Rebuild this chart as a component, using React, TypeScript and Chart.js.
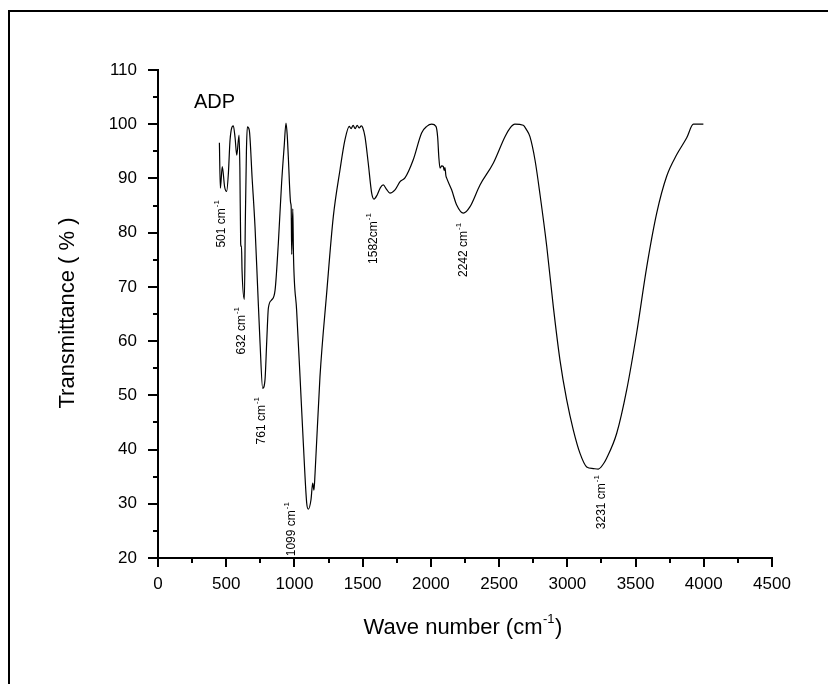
import React, { useEffect, useRef } from 'react';
import { Chart, registerables } from 'chart.js';

Chart.register(...registerables);

// ---- Data ----
const waveNumbers = [
  450, 457, 471, 488, 503, 516, 528, 552, 565, 577, 594, 600, 606, 609, 612, 616, 633,
  640, 648, 655, 669, 690, 711, 730, 748, 767, 784, 797, 809, 833, 858, 882, 906, 925,
  938, 947, 955, 972, 976, 980, 988, 993, 1016, 1041, 1065, 1090, 1102, 1121, 1134, 1143,
  1151, 1187, 1236, 1285, 1334, 1370, 1402, 1415, 1430, 1445, 1460, 1475, 1490, 1500,
  1517, 1541, 1566, 1583, 1607, 1630, 1651, 1675, 1700, 1737, 1774, 1810, 1870, 1932,
  1970, 2006, 2037, 2050, 2058, 2067, 2080, 2091, 2097, 2103, 2110, 2115, 2152, 2189,
  2238, 2287, 2360, 2457, 2543, 2580, 2616, 2677, 2700, 2726, 2763, 2800, 2849, 2897,
  2946, 2995, 3044, 3093, 3142, 3190, 3227, 3260, 3288, 3362, 3435, 3508, 3582, 3655,
  3728, 3802, 3875, 3924, 3960, 3997,
];
const transmittance = [
  96.6, 88.2, 92.2, 88.5, 87.6, 91.0, 97.1, 99.7, 97.5, 94.3, 98.0, 92.0, 78.0, 77.4, 77.5, 73.0, 67.7,
  82.0, 95.0, 99.5, 98.9, 90.0, 81.1, 70.0, 59.6, 51.3, 52.8, 60.0, 66.1, 67.6, 69.4, 78.1, 89.2, 96.0,
  100.2, 98.0, 94.0, 85.5, 84.8, 76.0, 84.4, 75.8, 65.7, 53.4, 41.2, 30.1, 29.0, 30.7, 33.8, 32.5,
  35.6, 53.4, 68.8, 83.0, 91.6, 97.1, 99.6, 99.2, 99.8, 99.2, 99.8, 99.3, 99.7, 99.4,
  97.7, 92.8, 87.3, 86.2, 87.0, 88.3, 88.8, 88.0, 87.3, 87.9, 89.4, 90.1, 93.4, 98.4,
  99.6, 100.0, 99.6, 97.5, 94.0, 91.9, 92.3, 92.2, 91.5, 92.0, 90.5, 90.1, 87.9, 85.1,
  83.6, 84.8, 88.8, 92.8, 97.7, 99.3, 100.0, 99.8, 99.0, 97.7, 93.4, 87.0, 77.5, 66.4,
  56.5, 49.2, 43.6, 39.3, 36.8, 36.5, 36.4, 37.2, 38.4, 43.0, 51.0, 61.5, 73.7, 83.6,
  90.4, 94.4, 97.5, 100.0, 100.0, 100.0,
];

// Peak annotations (text, anchor in data units: wave number of label, transmittance at label top)
const peakTexts = ['501 cm', '632 cm', '761 cm', '1099 cm', '1582cm', '2242 cm', '3231 cm'];
const peakAnchorWave = [467, 613, 760, 982, 1578, 2238, 3252];
const peakAnchorTop = [86.0, 66.3, 49.7, 30.3, 83.6, 81.8, 35.3];

const sampleName = 'ADP';
const xTitle = 'Wave number (cm';
const yTitle = 'Transmittance ( % )';

const X_MIN = 0, X_MAX = 4500, X_STEP = 500;
const Y_MIN = 20, Y_MAX = 110, Y_STEP = 10;

const FONT = '"Liberation Sans", Arial, Helvetica, sans-serif';

const extrasPlugin = {
  id: 'extras',
  afterDraw(chart: any) {
    const { ctx, chartArea } = chart;
    const xs = chart.scales.x;
    const ys = chart.scales.y;
    ctx.save();
    ctx.strokeStyle = '#000';
    ctx.fillStyle = '#000';
    ctx.lineWidth = 2;
    ctx.lineCap = 'butt';

    // x ticks (major + minor), outward
    ctx.beginPath();
    for (let v = X_MIN; v <= X_MAX + 1e-6; v += X_STEP / 2) {
      const px = Math.round(xs.getPixelForValue(v));
      const major = Math.abs(v / X_STEP - Math.round(v / X_STEP)) < 1e-6;
      const len = major ? 9 : 5;
      ctx.moveTo(px, chartArea.bottom);
      ctx.lineTo(px, chartArea.bottom + len);
    }
    // y ticks
    for (let v = Y_MIN; v <= Y_MAX + 1e-6; v += Y_STEP / 2) {
      const py = Math.round(ys.getPixelForValue(v));
      const major = Math.abs(v / Y_STEP - Math.round(v / Y_STEP)) < 1e-6;
      const len = major ? 10 : 5;
      ctx.moveTo(chartArea.left, py);
      ctx.lineTo(chartArea.left - len, py);
    }
    ctx.stroke();

    // Axis titles
    const cx = (chartArea.left + chartArea.right) / 2;
    const cy = (chartArea.top + chartArea.bottom) / 2;
    ctx.font = `22px ${FONT}`;
    const w1 = ctx.measureText(xTitle).width;
    ctx.font = `13px ${FONT}`;
    const w2 = ctx.measureText('-1').width;
    ctx.font = `22px ${FONT}`;
    const w3 = ctx.measureText(')').width;
    const total = w1 + w2 + 1 + w3;
    let sx = cx - 2 - total / 2;
    const ty = 628;
    ctx.textBaseline = 'middle';
    ctx.textAlign = 'left';
    ctx.fillText(xTitle, sx, ty);
    ctx.font = `13px ${FONT}`;
    ctx.fillText('-1', sx + w1 + 0.5, ty - 9);
    ctx.font = `22px ${FONT}`;
    ctx.fillText(')', sx + w1 + w2 + 1, ty);

    ctx.save();
    ctx.translate(68, cy - 1);
    ctx.rotate(-Math.PI / 2);
    ctx.textAlign = 'center';
    ctx.textBaseline = 'middle';
    ctx.font = `22px ${FONT}`;
    ctx.fillText(yTitle, 0, 0);
    ctx.restore();

    // Sample name
    ctx.font = `20px ${FONT}`;
    ctx.textAlign = 'left';
    ctx.textBaseline = 'alphabetic';
    ctx.fillText(sampleName, 194, 108);

    // Peak labels (rotated)
    peakTexts.forEach((t, i) => {
      const px = xs.getPixelForValue(peakAnchorWave[i]);
      const top = ys.getPixelForValue(peakAnchorTop[i]);
      ctx.font = `12px ${FONT}`;
      const a = ctx.measureText(t).width;
      ctx.font = `8px ${FONT}`;
      const b = ctx.measureText('-1').width;
      const tot = a + 1 + b;
      ctx.save();
      ctx.translate(px, top + tot);
      ctx.rotate(-Math.PI / 2);
      ctx.textAlign = 'left';
      ctx.textBaseline = 'middle';
      ctx.font = `12px ${FONT}`;
      ctx.fillText(t, 0, 0);
      ctx.font = `8px ${FONT}`;
      ctx.fillText('-1', a + 1, -5);
      ctx.restore();
    });

    ctx.restore();
  },
};

export default function App() {
  const canvasRef = useRef<HTMLCanvasElement | null>(null);

  useEffect(() => {
    const canvas = canvasRef.current;
    if (!canvas) return;
    const points = waveNumbers.map((w, i) => ({ x: w, y: transmittance[i] }));
    const chart = new Chart(canvas, {
      type: 'line',
      data: {
        datasets: [
          {
            data: points,
            borderColor: '#000',
            borderWidth: 1.2,
            pointRadius: 0,
            fill: false,
            cubicInterpolationMode: 'monotone',
          } as any,
        ],
      },
      options: {
        responsive: false,
        animation: false,
        devicePixelRatio: 1,
        layout: { padding: { top: 70, right: 56, left: 0, bottom: 0 } },
        plugins: {
          legend: { display: false },
          tooltip: { enabled: false },
          title: { display: false },
        },
        scales: {
          x: {
            type: 'linear',
            min: X_MIN,
            max: X_MAX,
            grid: { display: false, drawTicks: false, drawOnChartArea: false },
            border: { display: true, color: '#000', width: 2 },
            ticks: {
              stepSize: X_STEP,
              color: '#000',
              padding: 16,
              maxRotation: 0,
              autoSkip: false,
              font: { family: FONT, size: 17 },
              callback: (v: any) => String(v),
            },
            afterFit: (scale: any) => {
              scale.height = 126;
            },
          },
          y: {
            type: 'linear',
            min: Y_MIN,
            max: Y_MAX,
            grid: { display: false, drawTicks: false, drawOnChartArea: false },
            border: { display: true, color: '#000', width: 2 },
            ticks: {
              stepSize: Y_STEP,
              color: '#000',
              padding: 21,
              autoSkip: false,
              font: { family: FONT, size: 17 },
              callback: (v: any) => String(v),
            },
            afterFit: (scale: any) => {
              scale.width = 158;
            },
          },
        },
      },
      plugins: [extrasPlugin],
    });
    return () => chart.destroy();
  }, []);

  return (
    <div
      style={{
        position: 'absolute',
        left: 0,
        top: 0,
        width: 828,
        height: 684,
        overflow: 'hidden',
        background: '#fff',
      }}
    >
      <div
        style={{
          position: 'absolute',
          left: 8,
          top: 10,
          width: 1000,
          height: 1000,
          borderTop: '2px solid #000',
          borderLeft: '2px solid #000',
        }}
      />
      <canvas
        ref={canvasRef}
        width={828}
        height={684}
        style={{ position: 'absolute', left: 0, top: 0, width: 828, height: 684 }}
      />
    </div>
  );
}
